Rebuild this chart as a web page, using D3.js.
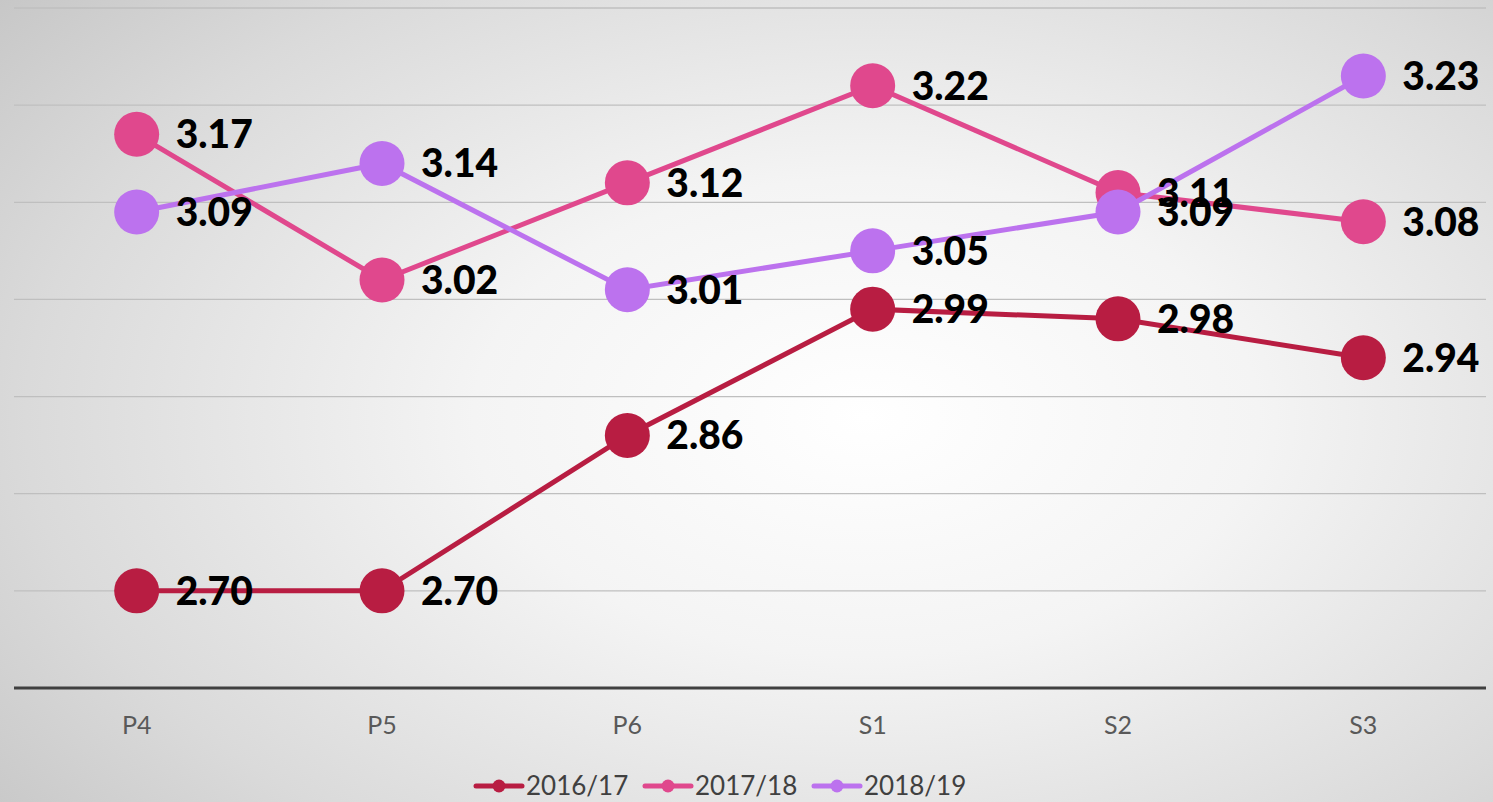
<!DOCTYPE html>
<html>
<head>
<meta charset="utf-8">
<script src="https://cdn.jsdelivr.net/npm/d3@7"></script>
<style>
  html, body {
    margin: 0;
    padding: 0;
    width: 1493px;
    height: 802px;
    overflow: hidden;
    background: radial-gradient(ellipse 75% 85% at 58% 52%, #ffffff 0%, #f4f4f4 35%, #dadada 75%, #c6c6c6 100%);
    font-family: "Lato", "Open Sans", sans-serif;
  }
</style>
</head>
<body>
<script>
'use strict';

// chart data
let categories = ["P4", "P5", "P6", "S1", "S2", "S3"];
let seriesNames = ["2016/17", "2017/18", "2018/19"];
let values1617 = [2.70, 2.70, 2.86, 2.99, 2.98, 2.94];
let values1718 = [3.17, 3.02, 3.12, 3.22, 3.11, 3.08];
let values1819 = [3.09, 3.14, 3.01, 3.05, 3.09, 3.23];
let yTicks = [2.7, 2.8, 2.9, 3.0, 3.1, 3.2, 3.3];

let colors = ["#b81d42", "#e0488d", "#bc72ee"];

let width = 1493, height = 802;
let plot = { left: 14, right: 1486, top: 8, bottom: 688 };

let svgContainer = d3.select("body")
  .append("svg")
  .attr("width", width)
  .attr("height", height);

let xScale = d3.scaleBand()
  .domain(categories)
  .range([plot.left, plot.right]);

let yScale = d3.scaleLinear()
  .domain([2.6, 3.3])
  .range([plot.bottom, plot.top]);

let cx = d => xScale(d) + xScale.bandwidth() / 2;

// gridlines
svgContainer.append("g")
  .selectAll("line")
  .data(yTicks)
  .enter()
  .append("line")
  .attr("x1", plot.left)
  .attr("x2", plot.right)
  .attr("y1", d => yScale(d))
  .attr("y2", d => yScale(d))
  .style("stroke", "#bfbfbf")
  .style("stroke-width", "1.3px");

// x axis
let xAxis = svgContainer.append("g")
  .attr("transform", "translate(0, " + plot.bottom + ")")
  .call(d3.axisBottom(xScale).tickSize(0).tickPadding(28));
xAxis.select(".domain")
  .attr("d", "M" + plot.left + ",0H" + plot.right)
  .style("stroke", "#404040")
  .style("stroke-width", "3px");
xAxis.selectAll("text")
  .style("font-family", "Lato, sans-serif")
  .style("font-size", "25px")
  .style("fill", "#595959");

// series
let series = [values1617, values1718, values1819].map((vals, i) => ({
  name: seriesNames[i],
  color: colors[i],
  points: categories.map((c, j) => ({ cat: c, value: vals[j] }))
}));

let line = d3.line()
  .x(d => cx(d.cat))
  .y(d => yScale(d.value));

series.forEach(s => {
  let g = svgContainer.append("g");
  g.append("path")
    .datum(s.points)
    .attr("d", line)
    .style("fill", "none")
    .style("stroke", s.color)
    .style("stroke-width", "5px");
  g.selectAll("circle")
    .data(s.points)
    .enter()
    .append("circle")
    .attr("cx", d => cx(d.cat))
    .attr("cy", d => yScale(d.value))
    .attr("r", 22.5)
    .style("fill", s.color);
});

// data labels
series.forEach(s => {
  svgContainer.append("g")
    .selectAll("text")
    .data(s.points)
    .enter()
    .append("text")
    .attr("x", d => cx(d.cat) + 39)
    .attr("y", d => yScale(d.value))
    .attr("dy", "0.36em")
    .style("font-family", "Lato, sans-serif")
    .style("font-weight", "900")
    .style("font-size", "39px")
    .style("fill", "#000")
    .text(d => d.value.toFixed(2));
});

// legend
let legendX = [474, 643, 812];
let legend = svgContainer.append("g")
  .selectAll("g")
  .data(series)
  .enter()
  .append("g")
  .attr("transform", (d, i) => "translate(" + legendX[i] + ", 786)");
legend.append("line")
  .attr("x1", 2)
  .attr("x2", 48)
  .style("stroke", d => d.color)
  .style("stroke-width", "5px")
  .style("stroke-linecap", "round");
legend.append("circle")
  .attr("cx", 25)
  .attr("r", 6.5)
  .style("fill", d => d.color);
legend.append("text")
  .attr("x", 52)
  .attr("dy", "0.34em")
  .style("font-family", "Lato, sans-serif")
  .style("font-size", "26px")
  .style("fill", "#404040")
  .text(d => d.name);
</script>
</body>
</html>
